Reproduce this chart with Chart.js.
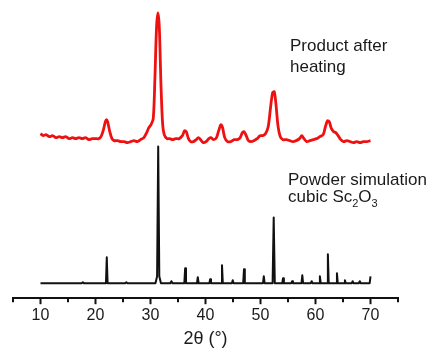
<!DOCTYPE html>
<html>
<head>
<meta charset="utf-8">
<script src="https://cdn.jsdelivr.net/npm/chart.js@4/dist/chart.umd.min.js"></script>
<style>
  body { margin: 0; background: #fff; }
  #wrap { width: 432px; height: 350px; }
</style>
</head>
<body>
<div id="wrap"><canvas id="xrd" width="432" height="350"></canvas></div>
<script>
// 2theta tick labels
var xTicks = [10, 20, 30, 40, 50, 60, 70];
var xMinor = [5, 15, 25, 35, 45, 55, 65, 75];

// measured pattern, product after heating (offset upward)
var heatX = [10.0,10.5,11.0,11.6,12.2,12.8,13.4,14.0,14.6,15.2,15.8,16.4,17.0,17.6,18.2,18.8,19.4,20.0,20.6,21.0,
  21.4,21.8,22.0,22.2,22.6,23.0,23.4,24.0,24.6,25.2,25.8,26.4,27.0,27.6,28.2,28.8,29.3,29.7,30.1,30.5,
  30.8,31.1,31.35,31.6,31.9,32.2,32.5,33.0,33.5,34.0,34.6,35.2,35.8,36.2,36.5,36.9,37.3,37.8,38.3,38.7,
  39.1,39.6,40.1,40.6,41.0,41.5,42.0,42.4,42.8,43.1,43.5,44.0,44.6,45.2,45.8,46.3,46.7,47.0,47.4,47.8,
  48.3,48.8,49.4,49.9,50.4,50.9,51.4,51.8,52.2,52.5,52.8,53.2,53.6,54.1,54.7,55.3,55.9,56.5,57.1,57.5,
  57.9,58.4,59.0,59.6,60.2,60.8,61.4,61.8,62.2,62.5,62.9,63.3,63.7,64.1,64.6,65.1,65.7,66.3,66.9,67.5,
  68.1,68.7,69.3,70.0];
var heatY = [165,163,164,162,163,161,162,161,162,160,161,160,161,160,161,159,160,160,160,162,
  168,177,179,177,167,160,158,158,157,157,156,157,158,157,159,161,166,171,174,180,
  220,272,286,272,215,175,164,160,160,159,160,160,163,168,167,160,157,157,159,161,
  159,156,157,160,161,159,161,168,174,171,161,157,157,159,159,161,166,167,163,158,
  157,158,160,163,163,165,172,190,206,207,195,172,162,159,159,158,157,158,160,163,
  160,157,158,159,160,162,164,172,178,177,170,167,166,163,159,157,158,157,156,157,
  156,157,157,158];

// simulated powder pattern, cubic Sc2O3
var simX = [10,17.5,17.7,17.9,21.9,22.05,22.2,25.4,25.6,25.8,30.9,31.2,31.4,31.6,31.9,33.6,33.8,34.0,
  36.15,36.3,36.45,38.45,38.6,38.75,40.7,40.85,41.0,42.85,43.0,43.15,44.8,44.95,45.1,46.85,47.0,47.15,
  50.45,50.6,50.75,52.2,52.4,52.6,53.95,54.1,54.25,55.6,55.75,55.9,57.45,57.6,57.75,59.15,59.3,59.45,
  60.65,60.8,60.95,62.1,62.25,62.4,63.75,63.9,64.05,65.2,65.35,65.5,66.6,66.75,66.9,67.9,68.05,68.2,
  69.85,70.0];
var simY = [15,15,16,15,15,41,15,15,16,15,15,22,152,22,15,15,17,15,
  15,30,15,15,21,15,15,19,15,15,33,15,15,18,15,15,29,15,
  15,22,15,15,81,15,15,20,15,15,17,15,15,23,15,15,17,15,
  15,22,15,15,44,15,15,25,15,15,18,15,15,17,15,15,17,15,
  15,22];

function toPoints(xs, ys) {
  var pts = [];
  for (var i = 0; i < xs.length; i++) {
    pts.push({x: xs[i], y: ys[i]});
  }
  return pts;
}

// minor ticks and the two curve labels
var decor = {
  id: 'decor',
  afterDraw: function(chart) {
    var ctx = chart.ctx;
    var xs = chart.scales.x;
    var base = chart.chartArea.bottom;
    ctx.save();
    ctx.strokeStyle = '#111';
    ctx.lineWidth = 2;
    for (var i = 0; i < xMinor.length; i++) {
      var px = Math.round(xs.getPixelForValue(xMinor[i]));
      ctx.beginPath();
      ctx.moveTo(px, base);
      ctx.lineTo(px, base + 4);
      ctx.stroke();
    }
    ctx.fillStyle = '#1a1a1a';
    ctx.textBaseline = 'alphabetic';
    ctx.font = '17px "Liberation Sans", Arial, sans-serif';
    ctx.fillText('Product after', 290, 51);
    ctx.fillText('heating', 290, 72);
    ctx.fillText('Powder simulation', 288, 185);
    var x = 288;
    ctx.fillText('cubic Sc', x, 202);
    x += ctx.measureText('cubic Sc').width;
    ctx.font = '11px "Liberation Sans", Arial, sans-serif';
    ctx.fillText('2', x, 207);
    x += ctx.measureText('2').width;
    ctx.font = '17px "Liberation Sans", Arial, sans-serif';
    ctx.fillText('O', x, 202);
    x += ctx.measureText('O').width;
    ctx.font = '11px "Liberation Sans", Arial, sans-serif';
    ctx.fillText('3', x, 207);
    ctx.restore();
  }
};

var ctx = document.getElementById('xrd').getContext('2d');
window.xrdChart = new Chart(ctx, {
  type: 'line',
  data: {
    datasets: [{
      label: 'Product after heating',
      data: toPoints(heatX, heatY),
      borderColor: '#ee1111',
      borderWidth: 2.8,
      borderJoinStyle: 'round',
      pointRadius: 0,
      tension: 0.3
    }, {
      label: 'Powder simulation cubic Sc2O3',
      data: toPoints(simX, simY),
      borderColor: '#111',
      borderWidth: 2,
      borderJoinStyle: 'round',
      pointRadius: 0,
      tension: 0
    }]
  },
  options: {
    responsive: false,
    animation: false,
    layout: { padding: { top: 10, left: 13, right: 34, bottom: 0 } },
    plugins: {
      legend: { display: false },
      tooltip: { enabled: false }
    },
    scales: {
      x: {
        type: 'linear',
        min: 5,
        max: 75,
        afterBuildTicks: function(scale) {
          scale.ticks = xTicks.map(function(v) { return {value: v}; });
        },
        grid: {
          drawOnChartArea: false,
          drawTicks: true,
          tickLength: 6,
          tickWidth: 2,
          tickColor: '#111'
        },
        border: { display: true, color: '#111', width: 2 },
        ticks: {
          color: '#1a1a1a',
          padding: 2,
          maxRotation: 0,
          font: { family: '"Liberation Sans", Arial, sans-serif', size: 16 }
        },
        title: {
          display: true,
          text: '2θ (°)',
          color: '#1a1a1a',
          padding: { top: 1, bottom: 0 },
          font: { family: '"Liberation Sans", Arial, sans-serif', size: 18 }
        }
      },
      y: {
        display: false,
        min: 0,
        max: 289
      }
    }
  },
  plugins: [decor]
});
</script>
</body>
</html>
